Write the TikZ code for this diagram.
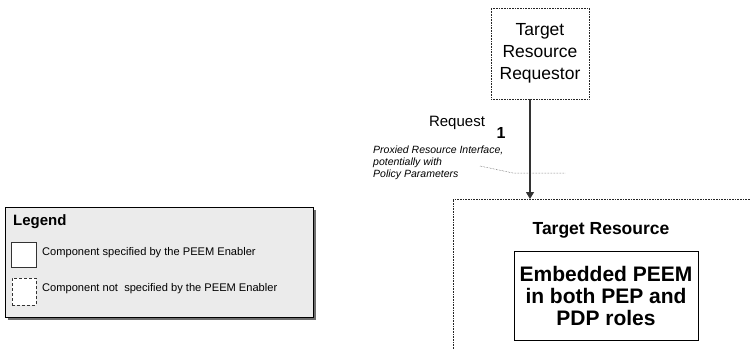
\documentclass[tikz,border=0pt]{standalone}
\usepackage{fontspec}
\setmainfont{Liberation Sans}
\usetikzlibrary{arrows.meta,shadows}
\definecolor{legendfill}{HTML}{EBEBEB}
\definecolor{shadowgray}{HTML}{6E6E6E}
\begin{document}
\begin{tikzpicture}[x=1pt,y=-1pt,
  dotbox/.style={draw=black!85,line width=0.6pt,densely dotted},
  solidbox/.style={draw=black,line width=0.8pt},
  flow/.style={draw=black!80,line width=1.1pt,-{Triangle[length=7pt,width=8pt]}},
  note/.style={font=\fontsize{10.5}{12}\selectfont\itshape,align=left,anchor=north west,inner sep=0pt},
  legtext/.style={font=\fontsize{11.1}{13}\selectfont,anchor=west,inner sep=0pt}]
\useasboundingbox (0,0) rectangle (750,349);

% requesting component
\node[dotbox,minimum width=98pt,minimum height=91pt,align=center,
      font=\fontsize{17.5}{22}\selectfont] (req) at (540,53.5)
  {Target\\Resource\\Requestor};

% resource container (runs past the right and bottom edges)
\coordinate (tr) at (530,199);
\draw[dotbox] (750,199) -- (453,199) -- (453,349);
\node[font=\bfseries\fontsize{17.5}{21}\selectfont,inner sep=0pt] (trlabel) at (601,230) {Target Resource};

% embedded PEEM
\node[solidbox,minimum width=184pt,minimum height=89pt,align=center,
      font=\bfseries\fontsize{21}{22}\selectfont] (peem) at (606,295.5)
  {Embedded PEEM\\in both PEP and\\PDP roles};

% request flow
\draw[flow] (req.south -| tr) -- (tr);
\node[font=\fontsize{15}{18}\selectfont,inner sep=0pt] (reqlbl) at (457,123) {Request};
\node[font=\bfseries\fontsize{16}{18}\selectfont,inner sep=0pt] (step1) at (501,133) {1};
\node[note] (iface) at (373,146) {Proxied Resource Interface,\\potentially with\\Policy Parameters};
\coordinate (callout) at (565,173);
\draw[densely dotted,line width=0.5pt,black!70] (480,166) -- (513,173) -- (callout);

% legend
\fill[shadowgray] (8,210) rectangle (316,320);
\node[draw=black,line width=0.8pt,fill=legendfill,minimum width=308pt,minimum height=110pt,
      inner sep=0pt] (legend) at (159,262) {};
\node[font=\bfseries\fontsize{15}{18}\selectfont,anchor=west,inner sep=0pt] (legtitle) at (13,222) {Legend};
\node[draw=black!80,line width=0.8pt,fill=white,minimum width=25pt,minimum height=25pt,inner sep=0pt] (keysolid) at (23.5,254.5) {};
\node[legtext] (keysolidtxt) at (42,253) {Component specified by the PEEM Enabler};
\node[draw=black!80,line width=0.6pt,dash pattern=on 3pt off 2pt,fill=white,minimum width=24pt,minimum height=27pt,inner sep=0pt] (keydash) at (24,291.5) {};
\node[legtext] (keydashtxt) at (42,289) {Component not\ \ specified by the PEEM Enabler};
\end{tikzpicture}
\end{document}
